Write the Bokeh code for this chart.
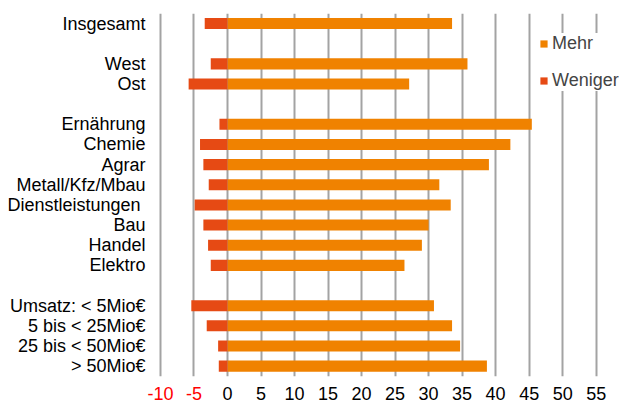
from bokeh.plotting import figure
from bokeh.models import Range1d, FixedTicker, LinearAxis, ColumnDataSource, Legend, BoxAnnotation
from bokeh.embed import file_html
from bokeh.resources import INLINE

# ---- data ----
labels = ["Insgesamt", "West", "Ost", "Ernährung", "Chemie", "Agrar", "Metall/Kfz/Mbau",
          "Dienstleistungen ", "Bau", "Handel", "Elektro", "Umsatz: < 5Mio€",
          "5 bis < 25Mio€", "25 bis < 50Mio€", "> 50Mio€"]
mehr = [33.5, 35.8, 27.1, 45.4, 42.2, 39.0, 31.6, 33.3, 30.0, 29.0, 26.4, 30.8, 33.5, 34.7, 38.7]
weniger = [-3.4, -2.5, -5.8, -1.2, -4.1, -3.6, -2.8, -4.9, -3.6, -2.9, -2.5, -5.4, -3.1, -1.4, -1.3]
# row order top to bottom, blank strings are spacer rows
rows = ["Insgesamt", "", "West", "Ost", "", "Ernährung", "Chemie", "Agrar", "Metall/Kfz/Mbau",
        "Dienstleistungen ", "Bau", "Handel", "Elektro", "", "Umsatz: < 5Mio€",
        "5 bis < 25Mio€", "25 bis < 50Mio€", "> 50Mio€"]
grid_ticks = [-10, -5, 0, 5, 10, 15, 20, 25, 30, 35, 40, 45, 50, 55]
pos_ticks = [0, 5, 10, 15, 20, 25, 30, 35, 40, 45, 50, 55]
neg_ticks = [-10, -5]
neg_tick_labels = ["-10", "-5"]

ORANGE = "#F08200"
RED = "#E64A14"
FONT = "Liberation Sans"
FS = "18px"

n = len(rows)
ypos = [rows.index(l) for l in labels]          # row index of each label (top = 0)
row_bottom = n - 0.5                             # lower edge of the bar area

p = figure(width=619, height=405, output_backend="svg", toolbar_location=None,
           y_range=Range1d(start=row_bottom + 1.454, end=-0.5),   # flipped: first row on top
           x_range=Range1d(-12.98, 58.48),
           min_border_left=140, min_border_right=0, min_border_top=13, min_border_bottom=0)
p.outline_line_color = None

src = ColumnDataSource(dict(y=ypos, mehr=mehr, weniger=weniger))
r1 = p.hbar(y="y", left=0, right="mehr", height=0.55, source=src,
            fill_color=ORANGE, line_color=None)
r2 = p.hbar(y="y", left="weniger", right=0, height=0.55, source=src,
            fill_color=RED, line_color=None)

# grid (only over the bar area: white box hides the part below)
p.ygrid.grid_line_color = None
p.xgrid.ticker = FixedTicker(ticks=grid_ticks)
p.xgrid.grid_line_color = "#a3a3a3"
p.xgrid.grid_line_width = 2
p.add_layout(BoxAnnotation(top=row_bottom, fill_color="white", fill_alpha=1.0,
                           line_color=None, level="underlay"))


def style_x(ax, color):
    ax.fixed_location = row_bottom
    ax.axis_line_color = None
    ax.major_tick_line_color = None
    ax.minor_tick_line_color = None
    ax.major_tick_out = 0
    ax.major_tick_in = 0
    ax.minor_tick_out = 0
    ax.minor_tick_in = 0
    ax.major_label_standoff = 11
    ax.major_label_text_font = FONT
    ax.major_label_text_font_size = FS
    ax.major_label_text_color = color


p.xaxis.ticker = FixedTicker(ticks=pos_ticks)
style_x(p.xaxis[0], "black")

red_axis = LinearAxis(ticker=FixedTicker(ticks=neg_ticks),
                      major_label_overrides=dict(zip(neg_ticks, neg_tick_labels)))
style_x(red_axis, "red")
p.add_layout(red_axis, "below")

# y axis
p.yaxis.ticker = FixedTicker(ticks=ypos)
p.yaxis.major_label_overrides = {i: l for i, l in zip(ypos, labels)}
p.yaxis.axis_line_color = None
p.yaxis.major_tick_line_color = None
p.yaxis.minor_tick_line_color = None
p.yaxis.major_tick_out = 0
p.yaxis.major_tick_in = 0
p.yaxis.minor_tick_out = 0
p.yaxis.minor_tick_in = 0
p.yaxis.major_label_standoff = -5
p.yaxis.major_label_text_font = FONT
p.yaxis.major_label_text_font_size = FS
p.yaxis.major_label_text_color = "black"

legend = Legend(items=[("Mehr", [r1]), ("Weniger", [r2])], location=(399, 314),
                glyph_width=9, glyph_height=9, label_standoff=4, spacing=16, padding=6,
                label_text_font=FONT, label_text_font_size=FS, border_line_color=None,
                background_fill_color="white", background_fill_alpha=1.0, margin=0)
p.add_layout(legend)

open("out.html", "w").write(file_html(p, INLINE))
